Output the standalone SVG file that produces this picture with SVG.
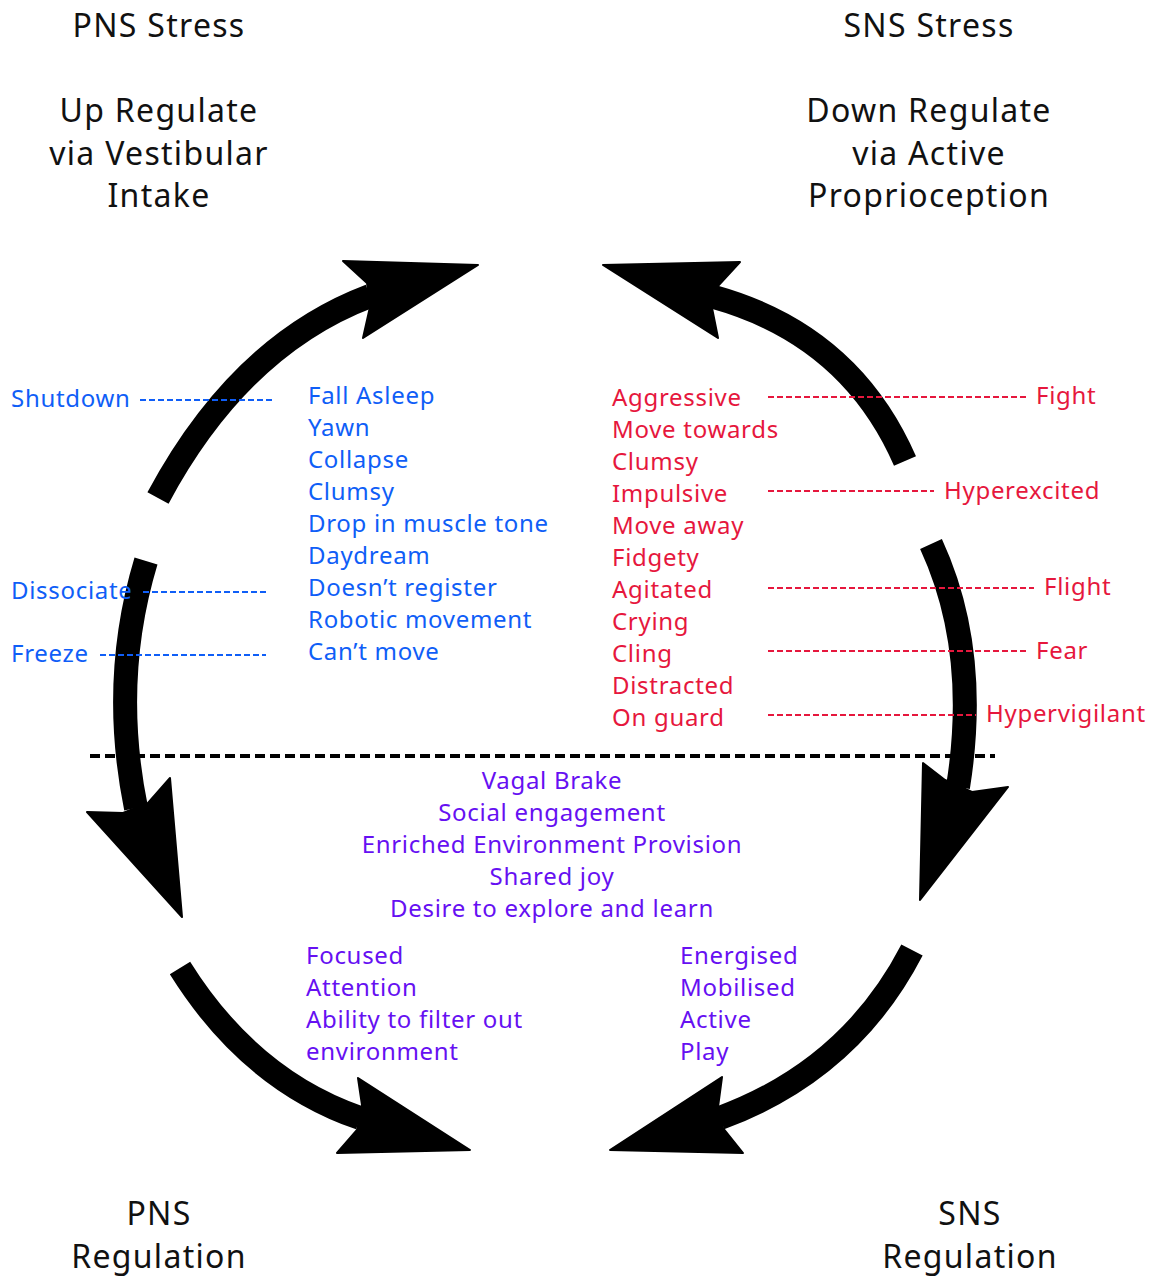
<svg xmlns="http://www.w3.org/2000/svg" width="1158" height="1277" viewBox="0 0 1158 1277">
<style>
text{font-family:"Noto Sans","Open Sans","DejaVu Sans",sans-serif}
.t{font-size:32px;letter-spacing:1.3px;fill:#111;text-anchor:middle}
.b{font-size:24px;letter-spacing:0.7px;fill:#0f5ef7}
.r{font-size:24px;letter-spacing:0.7px;fill:#e6173d}
.p{font-size:24px;letter-spacing:0.7px;fill:#6610f2}
.pc{text-anchor:middle}
.shaft{fill:none;stroke:#000;stroke-width:24;stroke-linecap:butt}
.head{fill:#000;stroke:#000;stroke-width:2;stroke-linejoin:round}
.db{stroke:#0f5ef7;stroke-width:2;stroke-dasharray:6 3}
.dr{stroke:#e6173d;stroke-width:2;stroke-dasharray:6 3}
.dk{stroke:#000;stroke-width:4;stroke-dasharray:10 5}
</style>
<rect width="1158" height="1277" fill="#fff"/>
<g id="connectors">
<g id="arrow-tl"><path class="shaft" d="M158,498 Q240,345 370,296"/><polygon class="head" points="367,283 343,261 478,265 363,338 370,307"/></g>
<g id="arrow-tr"><path class="shaft" d="M905,461 Q850,335 714,297"/><polygon class="head" points="717,287 740,262 603,265 718,338 712,308"/></g>
<g id="arrow-l"><path class="shaft" d="M146,561 Q110,680 136,808"/><polygon class="head" points="123,813 87,812 182,917 170,778 148,803"/></g>
<g id="arrow-r"><path class="shaft" d="M931,544 Q980,650 958,787"/><polygon class="head" points="945,780 923,763 920,900 1008,787 972,792"/></g>
<g id="arrow-bl"><path class="shaft" d="M180,968 Q250,1080 360,1118"/><polygon class="head" points="362,1105 358,1078 470,1150 337,1153 357,1130"/></g>
<g id="arrow-br"><path class="shaft" d="M912,950 Q850,1070 720,1118"/><polygon class="head" points="718,1107 722,1077 610,1150 743,1153 723,1128"/></g>
<line class="dk" x1="90" y1="756" x2="995" y2="756"/>
<line class="db" x1="140" y1="400" x2="272" y2="400"/>
<line class="db" x1="143" y1="592" x2="266" y2="592"/>
<line class="db" x1="100" y1="655" x2="266" y2="655"/>
<line class="dr" x1="768" y1="397" x2="1026" y2="397"/>
<line class="dr" x1="768" y1="491" x2="934" y2="491"/>
<line class="dr" x1="768" y1="588" x2="1034" y2="588"/>
<line class="dr" x1="768" y1="651" x2="1026" y2="651"/>
<line class="dr" x1="768" y1="715" x2="976" y2="715"/>
</g>
<g id="pns-stress"><text class="t" x="159" y="37">PNS Stress</text><text class="t" x="159" y="122">Up Regulate</text><text class="t" x="159" y="165">via Vestibular</text><text class="t" x="159" y="207">Intake</text></g>
<g id="sns-stress"><text class="t" x="929" y="37">SNS Stress</text><text class="t" x="929" y="122">Down Regulate</text><text class="t" x="929" y="165">via Active</text><text class="t" x="929" y="207">Proprioception</text></g>
<g id="pns-regulation"><text class="t" x="159" y="1225">PNS</text><text class="t" x="159" y="1268">Regulation</text></g>
<g id="sns-regulation"><text class="t" x="970" y="1225">SNS</text><text class="t" x="970" y="1268">Regulation</text></g>
<g id="pns-labels"><text class="b" x="11" y="407">Shutdown</text><text class="b" x="11" y="599">Dissociate</text><text class="b" x="11" y="662">Freeze</text></g>
<g id="pns-list">
<text class="b" x="308" y="404">Fall Asleep</text>
<text class="b" x="308" y="436">Yawn</text>
<text class="b" x="308" y="468">Collapse</text>
<text class="b" x="308" y="500">Clumsy</text>
<text class="b" x="308" y="532">Drop in muscle tone</text>
<text class="b" x="308" y="564">Daydream</text>
<text class="b" x="308" y="596">Doesn’t register</text>
<text class="b" x="308" y="628">Robotic movement</text>
<text class="b" x="308" y="660">Can’t move</text>
</g>
<g id="sns-list">
<text class="r" x="612" y="406">Aggressive</text>
<text class="r" x="612" y="438">Move towards</text>
<text class="r" x="612" y="470">Clumsy</text>
<text class="r" x="612" y="502">Impulsive</text>
<text class="r" x="612" y="534">Move away</text>
<text class="r" x="612" y="566">Fidgety</text>
<text class="r" x="612" y="598">Agitated</text>
<text class="r" x="612" y="630">Crying</text>
<text class="r" x="612" y="662">Cling</text>
<text class="r" x="612" y="694">Distracted</text>
<text class="r" x="612" y="726">On guard</text>
</g>
<g id="sns-labels">
<text class="r" x="1036" y="404">Fight</text>
<text class="r" x="944" y="499">Hyperexcited</text>
<text class="r" x="1044" y="595">Flight</text>
<text class="r" x="1036" y="659">Fear</text>
<text class="r" x="986" y="722">Hypervigilant</text>
</g>
<g id="vagal">
<text class="p pc" x="552" y="789">Vagal Brake</text>
<text class="p pc" x="552" y="821">Social engagement</text>
<text class="p pc" x="552" y="853">Enriched Environment Provision</text>
<text class="p pc" x="552" y="885">Shared joy</text>
<text class="p pc" x="552" y="917">Desire to explore and learn</text>
</g>
<g id="pns-reg-list">
<text class="p" x="306" y="964">Focused</text>
<text class="p" x="306" y="996">Attention</text>
<text class="p" x="306" y="1028">Ability to filter out</text>
<text class="p" x="306" y="1060">environment</text>
</g>
<g id="sns-reg-list">
<text class="p" x="680" y="964">Energised</text>
<text class="p" x="680" y="996">Mobilised</text>
<text class="p" x="680" y="1028">Active</text>
<text class="p" x="680" y="1060">Play</text>
</g>
</svg>
